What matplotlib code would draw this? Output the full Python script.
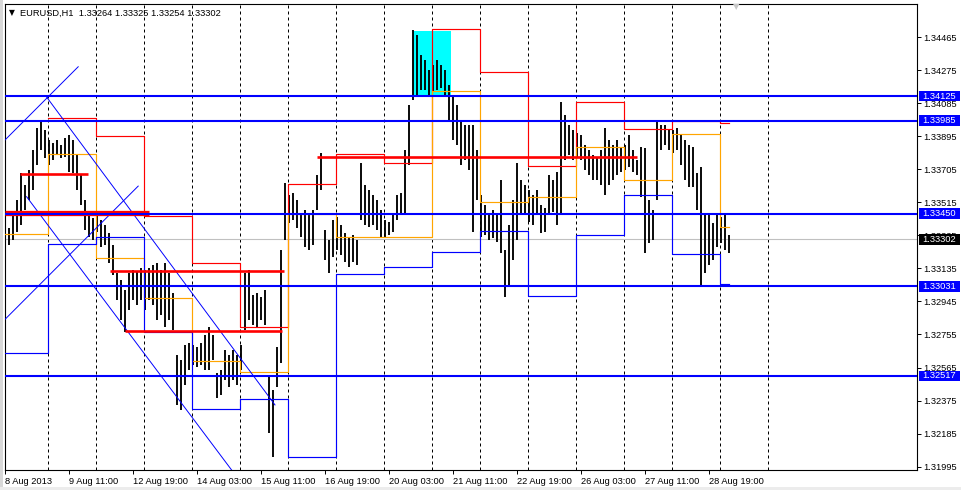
import matplotlib

matplotlib.use("Agg")
import matplotlib.pyplot as plt
import matplotlib.transforms as mtransforms
from matplotlib.patches import Rectangle
import numpy as np

plt.rcParams["font.family"] = ["Liberation Sans", "DejaVu Sans"]

W, H = 962, 490
BLUE = "#0000FF"
RED = "#FF0000"
ORANGE = "#FFA500"

# EURUSD H1, one high/low entry per two hourly bars, starting 8 Aug 2013 03:00
bar_high = [
    1.33384, 1.33367, 1.33442, 1.33528, 1.33683, 1.33614, 1.33701, 1.33816, 1.33942, 1.33988,
    1.33931, 1.33873, 1.33856, 1.33873, 1.33844, 1.33885, 1.33902, 1.33873, 1.33787, 1.33672,
    1.33528, 1.33453, 1.33425, 1.33442, 1.33413, 1.33384, 1.33338, 1.33269, 1.33108, 1.33069,
    1.33011, 1.33108, 1.33126, 1.33114, 1.33137, 1.33126, 1.33137, 1.33154, 1.33166, 1.33126,
    1.33166, 1.33108, 1.32993, 1.32637, 1.32608, 1.32694, 1.32706, 1.32694, 1.32683, 1.32706,
    1.32752, 1.32798, 1.32752, 1.32533, 1.32551, 1.32666, 1.32637, 1.32666, 1.32637, 1.32694,
    1.33108, 1.33126, 1.32982, 1.32993, 1.32970, 1.33011, 1.32510, 1.32436, 1.32683, 1.33241,
    1.33626, 1.33557, 1.33568, 1.33528, 1.33453, 1.33471, 1.33453, 1.33471, 1.33672, 1.33798,
    1.33356, 1.33298, 1.33413, 1.33430, 1.33384, 1.33338, 1.33310, 1.33327, 1.33298, 1.33741,
    1.33614, 1.33586, 1.33557, 1.33528, 1.33471, 1.33413, 1.33402, 1.33442, 1.33557, 1.33568,
    1.33816, 1.34074, 1.34506, 1.34477, 1.34362, 1.34333, 1.34276, 1.34304, 1.34333, 1.34304,
    1.34276, 1.34189, 1.34132, 1.34074, 1.33988, 1.33959, 1.33959, 1.33959, 1.33816, 1.33557,
    1.33499, 1.33442, 1.33471, 1.33442, 1.33643, 1.33241, 1.33384, 1.33528, 1.33741, 1.33643,
    1.33614, 1.33586, 1.33557, 1.33586, 1.33499, 1.33482, 1.33672, 1.33643, 1.33689, 1.34092,
    1.34017, 1.33959, 1.33931, 1.33913, 1.33902, 1.33844, 1.33816, 1.33787, 1.33770, 1.33816,
    1.33942, 1.33873, 1.33844, 1.33873, 1.33833, 1.33844, 1.33902, 1.33816, 1.33758, 1.33833,
    1.33827, 1.33528, 1.33471, 1.33977, 1.33959, 1.33959, 1.33931, 1.33931, 1.33942, 1.33902,
    1.33873, 1.33844, 1.33833, 1.33683, 1.33718, 1.33453, 1.33442, 1.33396, 1.33453, 1.33430,
    1.33442, 1.33327,
]
bar_low = [
    1.33281, 1.33269, 1.33298, 1.33344, 1.33384, 1.33471, 1.33528, 1.33586, 1.33729, 1.33816,
    1.33770, 1.33729, 1.33758, 1.33787, 1.33770, 1.33775, 1.33689, 1.33683, 1.33586, 1.33499,
    1.33356, 1.33315, 1.33298, 1.33344, 1.33258, 1.33269, 1.33166, 1.33097, 1.32953, 1.32838,
    1.32769, 1.32896, 1.32953, 1.32924, 1.32953, 1.32896, 1.32953, 1.32924, 1.32838, 1.32867,
    1.32798, 1.32838, 1.32781, 1.32349, 1.32321, 1.32464, 1.32551, 1.32579, 1.32568, 1.32579,
    1.32551, 1.32551, 1.32608, 1.32390, 1.32407, 1.32493, 1.32453, 1.32493, 1.32464, 1.32551,
    1.32781, 1.32838, 1.32809, 1.32798, 1.32838, 1.32809, 1.32188, 1.32050, 1.32453, 1.32591,
    1.33298, 1.33396, 1.33413, 1.33367, 1.33315, 1.33258, 1.33241, 1.33269, 1.33471, 1.33586,
    1.33183, 1.33108, 1.33200, 1.33241, 1.33212, 1.33172, 1.33143, 1.33172, 1.33154, 1.33413,
    1.33384, 1.33373, 1.33384, 1.33356, 1.33315, 1.33315, 1.33327, 1.33344, 1.33413, 1.33442,
    1.33442, 1.33729, 1.34103, 1.34132, 1.34161, 1.34161, 1.34132, 1.34149, 1.34161, 1.34172,
    1.34132, 1.33988, 1.33873, 1.33844, 1.33729, 1.33758, 1.33701, 1.33344, 1.33528, 1.33315,
    1.33327, 1.33298, 1.33310, 1.33287, 1.33223, 1.32970, 1.33039, 1.33183, 1.33298, 1.33442,
    1.33453, 1.33402, 1.33384, 1.33442, 1.33338, 1.33344, 1.33442, 1.33459, 1.33384, 1.33453,
    1.33758, 1.33787, 1.33758, 1.33775, 1.33758, 1.33701, 1.33672, 1.33643, 1.33643, 1.33614,
    1.33557, 1.33614, 1.33643, 1.33672, 1.33689, 1.33701, 1.33718, 1.33689, 1.33672, 1.33545,
    1.33223, 1.33281, 1.33298, 1.33528, 1.33816, 1.33844, 1.33816, 1.33798, 1.33816, 1.33729,
    1.33643, 1.33603, 1.33603, 1.33471, 1.33039, 1.33108, 1.33154, 1.33183, 1.33258, 1.33281,
    1.33241, 1.33223,
]

# previous-day levels, one value per day segment
day_high = [np.nan, 1.33999, 1.33896, 1.33436, 1.33164, 1.32796, 1.33618, 1.33792,
            1.33739, 1.34510, 1.34262, 1.33724, 1.34090, 1.33935, 1.33985, 1.33972]
day_close = [1.33331, 1.33792, 1.33193, 1.32966, 1.32603, 1.32541, 1.33450, 1.33314,
             1.33317, 1.34156, 1.33518, 1.33544, 1.33831, 1.33643, 1.33907, 1.33371]
day_low = [1.32650, 1.33273, 1.33317, 1.32771, 1.32325, 1.32382, 1.32053, 1.33101,
           1.33141, 1.33227, 1.33350, 1.32976, 1.33327, 1.33557, 1.33218, 1.33045]

# horizontal support / resistance lines
sr_levels = [1.34125, 1.33985, 1.33450, 1.33031, 1.32517]
last_price = 1.33302

# pivot segments: price, first bar, last bar
pivot_price = [1.33455, 1.33679, 1.33122, 1.32777, 1.33777]
pivot_start = [0, 7.5, 52.5, 60, 156]
pivot_end = [72, 41.5, 139.5, 138.5, 316]

# trend lines: bar0, price0, bar1, price1
trend_lines = [
    (0, 1.33873, 36.6, 1.34294),
    (20.8, 1.34120, 135, 1.32350),
    (10.8, 1.33547, 113.3, 1.31976),
    (0, 1.32842, 66.6, 1.33608),
]

# highlighted zone: bars, prices
zone_bars = (204, 223)
zone_prices = (1.34125, 1.34499)

time_labels = ["8 Aug 2013", "9 Aug 11:00", "12 Aug 19:00", "14 Aug 03:00",
               "15 Aug 11:00", "16 Aug 19:00", "20 Aug 03:00", "21 Aug 11:00",
               "22 Aug 19:00", "26 Aug 03:00", "27 Aug 11:00", "28 Aug 19:00"]
price_ticks = [1.34465, 1.34275, 1.34085, 1.33895, 1.33705, 1.33515, 1.33325,
               1.33135, 1.32945, 1.32755, 1.32565, 1.32375, 1.32185, 1.31995]

title = "EURUSD,H1  1.33264 1.33325 1.33254 1.33302"

n_bars = 2 * (len(bar_high) - 1)          # last hourly bar index
first_midnight = 21.3                      # 9 Aug 00:00 in hourly bars
edges = np.r_[0, first_midnight + 24 * np.arange(len(day_high) - 1), n_bars]

# ---- figure ----
fig = plt.figure(figsize=(W / 100, H / 100), dpi=100, facecolor="white")
left, right, top, bottom = 4.7, 917.3, 4.3, 470.0
ax = fig.add_axes([left / W, 1 - bottom / H, (right - left) / W, (bottom - top) / H])
ax.set_facecolor("white")
px_per_bar = 2.0
ax.set_xlim((left - 5) / px_per_bar, (right - 5) / px_per_bar)
ax.set_ylim(1.31976, 1.34653)

for sp in ax.spines.values():
    sp.set_linewidth(0.8)
    sp.set_color("black")

# vertical dashed grid at day boundaries
for k in range(16):
    ax.axvline(first_midnight + 0.05 + 24 * k, color="black", lw=0.72,
               ls=(0, (3, 3)), zorder=0.5)

ax.add_patch(Rectangle((zone_bars[0], zone_prices[0]), zone_bars[1] - zone_bars[0],
                       zone_prices[1] - zone_prices[0], facecolor="#00FFFF",
                       edgecolor="none", zorder=1))

ax.axhline(last_price, color="#C0C0C0", lw=0.8, zorder=1.2)

xs = np.arange(len(bar_high)) * 2
ax.vlines(xs, bar_low, bar_high, color="black", lw=1.35, zorder=2)

for levels, color in ((day_high, RED), (day_close, ORANGE), (day_low, BLUE)):
    ax.step(edges, np.r_[levels, levels[-1]], where="post", color=color, lw=0.85, zorder=3)

for b0, p0, b1, p1 in trend_lines:
    ax.plot([b0, b1], [p0, p1], color=BLUE, lw=0.7, zorder=3)

for i, (p, s, e) in enumerate(zip(pivot_price, pivot_start, pivot_end)):
    ax.hlines(p, s, e, color=RED, lw=3.8 if i == 0 else 1.9, zorder=4)

for lvl in sr_levels:
    ax.axhline(lvl, color=BLUE, lw=1.5, zorder=4)

# axes ticks and labels
ax.set_xticks(np.arange(len(time_labels)) * 32)
ax.set_xticklabels(time_labels, ha="left")
ax.set_yticks(price_ticks)
ax.set_yticklabels([f"{p:.5f}" for p in price_ticks])
ax.yaxis.tick_right()
ax.tick_params(axis="y", direction="out", length=2.6, width=0.7, pad=2.0,
               labelsize=6.7, colors="black")
ax.tick_params(axis="x", direction="out", length=2.6, width=0.7, pad=2.6,
               labelsize=6.7, colors="black")

# value boxes on the price scale
axw = right - left
blend = mtransforms.blended_transform_factory(ax.transAxes, ax.transData)
box_h = 10.5 * (1.34653 - 1.31976) / (bottom - top)
for lvl, fc in [(v, BLUE) for v in sr_levels] + [(last_price, "black")]:
    ax.add_patch(Rectangle((1 + 1.8 / axw, lvl - box_h / 2), 41 / axw, box_h,
                           transform=blend, facecolor=fc, edgecolor="none",
                           clip_on=False, zorder=6))
    ax.text(1 + 5.3 / axw, lvl, f"{lvl:.5f}", transform=blend, color="white",
            fontsize=6.7, va="center", ha="left", clip_on=False, zorder=7)

# title and window decorations
fig.text(12 / W, 1 - 13 / H, "\u25bc", fontsize=5.5, ha="center", va="center",
         family=["DejaVu Sans"])
fig.text(20 / W, 1 - 13 / H, title, fontsize=6.7, ha="left", va="center")
fig.text(736 / W, 1 - 7 / H, "\u25bc", fontsize=6, ha="center", va="center",
         color="#C8C8C8", family=["DejaVu Sans"])
fig.patches.append(Rectangle((0, 0), 2.5 / W, 1, transform=fig.transFigure,
                             facecolor="#D8D8D8", edgecolor="none"))
fig.patches.append(Rectangle((0, 0), 1, 3.5 / H, transform=fig.transFigure,
                             facecolor="#ECECEC", edgecolor="none"))

fig.savefig("out.png", dpi=100, facecolor="white")
